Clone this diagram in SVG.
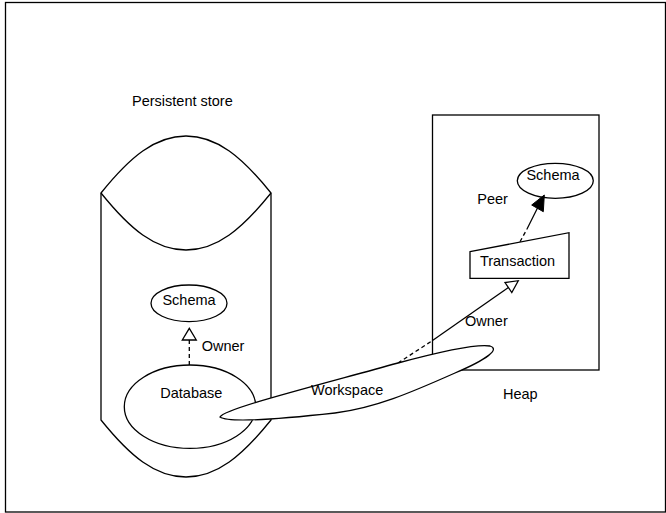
<svg xmlns="http://www.w3.org/2000/svg" width="666" height="513" viewBox="0 0 666 513">
<style>
.s{fill:#fff;stroke:#000;stroke-width:1.3}
.n{fill:none;stroke:#000;stroke-width:1.3}
.d{fill:none;stroke:#000;stroke-width:1.3;stroke-dasharray:4 3}
.t{font-family:"Liberation Sans",Arial,sans-serif;font-size:14.5px;fill:#000}
.m{text-anchor:middle}
</style>
<rect x="0" y="0" width="666" height="513" fill="#fff"/>
<rect x="5.5" y="2.5" width="660" height="509.5" class="n"/>
<g id="persistent-store">
<path class="s" d="M101,193 C130,157 155,136 186,136 C217,136 242,157 271,193 L271,420 C242,456 217,477 186,477 C155,477 130,456 101,420 Z"/>
<path class="n" d="M101,193 C130,229 155,250 186,250 C217,250 242,229 271,193"/>
<text class="t" x="132" y="106">Persistent store</text>
</g>
<g id="heap">
<rect class="s" x="432.5" y="115" width="166.5" height="255"/>
<text class="t" x="503" y="398.5">Heap</text>
</g>
<g id="schema-db">
<ellipse class="s" cx="189" cy="303.3" rx="38" ry="18.3"/>
<text class="t m" x="189" y="304.5">Schema</text>
</g>
<g id="database">
<ellipse class="s" cx="190" cy="406.7" rx="65.7" ry="41.7"/>
<text class="t m" x="191.3" y="397.7">Database</text>
</g>
<g id="schema-heap">
<ellipse class="s" cx="555.3" cy="180.8" rx="38" ry="17.5"/>
<text class="t m" x="553" y="179.5">Schema</text>
</g>
<g id="transaction">
<path class="s" d="M470,251.7 L569,232.7 L569,278.3 L470,278.3 Z"/>
<text class="t m" x="517.5" y="265.7">Transaction</text>
</g>
<g id="connectors">
<line class="d" x1="189.3" y1="340" x2="189.3" y2="365"/>
<path class="s" d="M189.3,328.3 L196.3,340 L182.3,340 Z"/>
<text class="t" x="201.7" y="351">Owner</text>
<line class="d" x1="520" y1="241.7" x2="527" y2="229"/>
<line class="n" x1="527" y1="229" x2="538" y2="207"/>
<path d="M544.3,195 L543.3,211.7 L531.7,205 Z" fill="#000" stroke="#000" stroke-width="1"/>
<text class="t" x="477.3" y="204">Peer</text>
<line class="d" x1="398" y1="363" x2="432.5" y2="340.5"/>
<line class="n" x1="432.5" y1="340.5" x2="508.4" y2="287.5"/>
<path class="s" d="M518.3,280.7 L511.8,292.5 L505,282.5 Z"/>
<text class="t" x="465" y="326">Owner</text>
</g>
<g id="workspace">
<path class="s" d="M220,417 C224,409 300,390 398,363 C450,349 478,344 490,346 C500,349 488,359 455,373 C410,393 375,408 335,413 C290,418 230,424 220,417 Z"/>
<text class="t" x="311" y="395">Workspace</text>
</g>
</svg>
